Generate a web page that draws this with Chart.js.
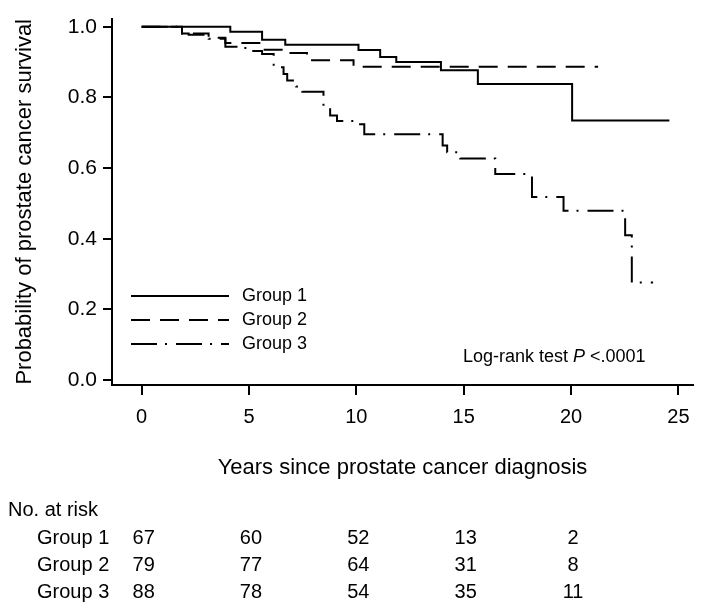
<!DOCTYPE html>
<html>
<head>
<meta charset="utf-8">
<script src="https://cdn.jsdelivr.net/npm/chart.js@4.4.1/dist/chart.umd.min.js"></script>
<style>
  html, body { margin: 0; padding: 0; background: #fff; }
  #c { display: block; }
</style>
</head>
<body>
<canvas id="c" width="704" height="613"></canvas>
<script>
// ---- Data ----
const group1Time = [0, 4.13, 5.61, 6.69, 10.10, 11.11, 11.86, 13.94, 15.66, 20.05, 24.58];
const group1Surv = [1.0, 0.986, 0.963, 0.949, 0.934, 0.914, 0.900, 0.877, 0.838, 0.735, 0.735];

const group2Time = [0, 1.88, 3.12, 3.90, 5.61, 6.69, 7.70, 9.87, 21.26];
const group2Surv = [1.0, 0.981, 0.969, 0.954, 0.935, 0.926, 0.905, 0.887, 0.887];

const group3Time = [0, 1.88, 2.19, 3.12, 3.90, 4.83, 5.61, 6.15, 6.61, 6.78, 7.20, 7.48, 8.47, 8.78, 9.10, 10.04, 10.37, 14.02, 14.23, 14.84, 16.47, 18.18, 19.65, 22.52, 22.83, 23.82];
const group3Surv = [1.0, 0.981, 0.977, 0.966, 0.943, 0.931, 0.923, 0.885, 0.866, 0.848, 0.831, 0.816, 0.774, 0.749, 0.733, 0.724, 0.696, 0.664, 0.645, 0.627, 0.583, 0.518, 0.479, 0.410, 0.276, 0.276];

const groupNames = ["Group 1", "Group 2", "Group 3"];
const xTicks = [0, 5, 10, 15, 20, 25];
const yTicks = [0.0, 0.2, 0.4, 0.6, 0.8, 1.0];

const riskTimes = [0, 5, 10, 15, 20];
const riskGroup1 = [67, 60, 52, 13, 2];
const riskGroup2 = [79, 77, 64, 31, 8];
const riskGroup3 = [88, 78, 54, 35, 11];

const FONT = "'Liberation Sans', Arial, Helvetica, sans-serif";

function toPoints(t, s) { return t.map((v, i) => ({ x: v, y: s[i] })); }

const dashes = [[], [19, 10], [26, 8, 2, 9]];

// ---- Plugin: legend, annotation, risk table ----
const extras = {
  id: 'extras',
  afterDraw(chart) {
    const ctx = chart.ctx;
    const xs = chart.scales.x;
    ctx.save();
    ctx.fillStyle = '#000';
    ctx.strokeStyle = '#000';
    // legend
    const legY = [296, 320, 344];
    ctx.font = '18px ' + FONT;
    ctx.textBaseline = 'middle';
    ctx.textAlign = 'left';
    for (let i = 0; i < 3; i++) {
      ctx.lineWidth = 2;
      ctx.setLineDash(dashes[i]);
      ctx.beginPath();
      ctx.moveTo(131, legY[i]);
      ctx.lineTo(229, legY[i]);
      ctx.stroke();
      ctx.setLineDash([]);
      ctx.fillText(groupNames[i], 242, legY[i]);
    }
    // log-rank annotation
    let x = 463;
    const y = 357;
    ctx.font = '18px ' + FONT;
    const t1 = 'Log-rank test ';
    ctx.fillText(t1, x, y);
    x += ctx.measureText(t1).width;
    ctx.font = 'italic 18px ' + FONT;
    ctx.fillText('P', x, y);
    x += ctx.measureText('P').width;
    ctx.font = '18px ' + FONT;
    ctx.fillText(' <.0001', x, y);

    // risk table
    ctx.font = '20px ' + FONT;
    ctx.textAlign = 'left';
    ctx.fillText('No. at risk', 8, 510);
    const rows = [riskGroup1, riskGroup2, riskGroup3];
    const rowY = [538, 565, 592];
    for (let r = 0; r < 3; r++) {
      ctx.textAlign = 'left';
      ctx.fillText(groupNames[r], 37, rowY[r]);
      ctx.textAlign = 'center';
      for (let k = 0; k < riskTimes.length; k++) {
        ctx.fillText(String(rows[r][k]), xs.getPixelForValue(riskTimes[k]) + 2, rowY[r]);
      }
    }
    ctx.restore();
  }
};

Chart.defaults.font.family = FONT;
Chart.defaults.color = '#000';

new Chart(document.getElementById('c'), {
  type: 'line',
  data: {
    datasets: [
      { label: groupNames[0], data: toPoints(group1Time, group1Surv), borderDash: dashes[0] },
      { label: groupNames[1], data: toPoints(group2Time, group2Surv), borderDash: dashes[1] },
      { label: groupNames[2], data: toPoints(group3Time, group3Surv), borderDash: dashes[2] }
    ].map(d => Object.assign(d, {
      stepped: 'before', borderColor: '#000', borderWidth: 2, pointRadius: 0,
      fill: false, tension: 0, borderCapStyle: 'butt'
    }))
  },
  options: {
    responsive: false,
    animation: false,
    events: [],
    layout: { padding: { top: 10, right: 11, bottom: 128, left: 0 } },
    plugins: { legend: { display: false }, tooltip: { enabled: false } },
    scales: {
      x: {
        type: 'linear',
        min: -1.38, max: 25.68,
        afterBuildTicks: s => { s.ticks = xTicks.map(v => ({ value: v })); },
        afterFit: s => { s.height = 100; },
        ticks: { font: { size: 20 }, padding: 10, maxRotation: 0, callback: v => String(v) },
        grid: { drawOnChartArea: false, drawTicks: true, tickLength: 10, color: '#000', lineWidth: 2 },
        border: { display: true, color: '#000', width: 2 },
        title: { display: true, text: 'Years since prostate cancer diagnosis', font: { size: 22 }, padding: { top: 0, bottom: 4 } }
      },
      y: {
        type: 'linear',
        min: -0.0138, max: 1.023,
        afterBuildTicks: s => { s.ticks = yTicks.map(v => ({ value: v })); },
        afterFit: s => { s.width = 112; },
        ticks: { font: { size: 21 }, padding: 6, callback: v => Number(v).toFixed(1) },
        grid: { drawOnChartArea: false, drawTicks: true, tickLength: 9, color: '#000', lineWidth: 2 },
        border: { display: true, color: '#000', width: 2 },
        title: { display: true, text: 'Probability of prostate cancer survival', font: { size: 22 }, padding: { top: 12, bottom: 0 } }
      }
    }
  },
  plugins: [extras]
});
</script>
</body>
</html>
